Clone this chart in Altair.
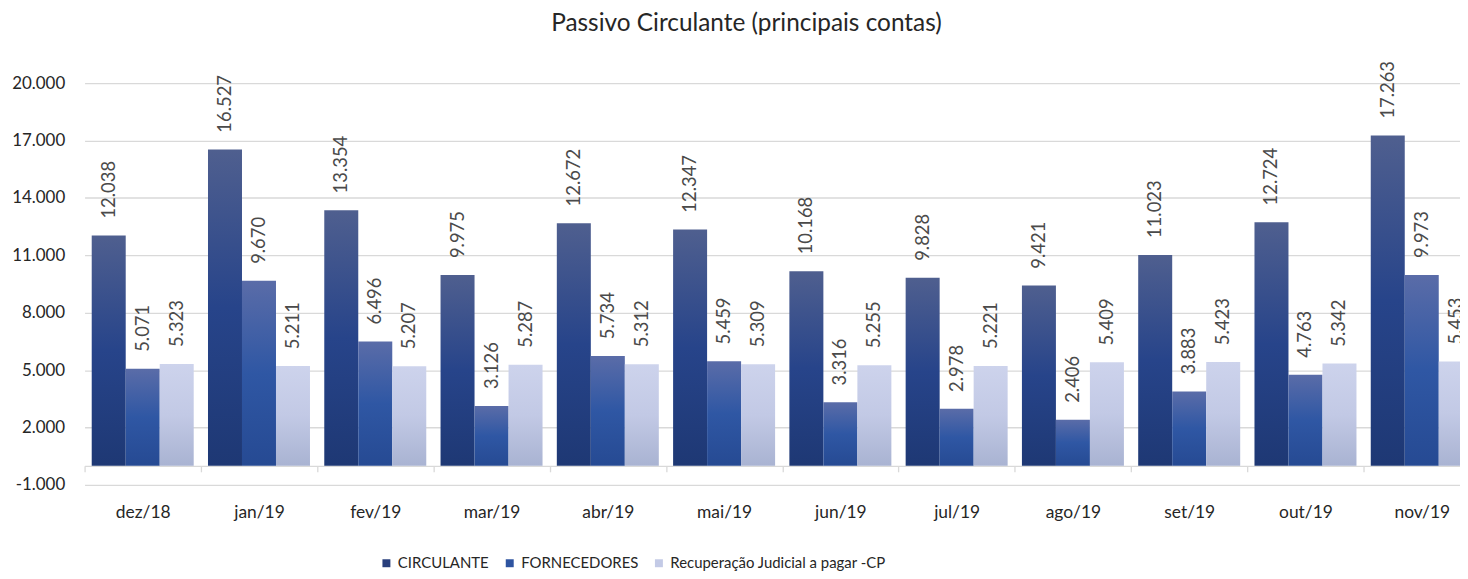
import altair as alt
import pandas as pd

months = ["dez/18", "jan/19", "fev/19", "mar/19", "abr/19", "mai/19",
          "jun/19", "jul/19", "ago/19", "set/19", "out/19", "nov/19"]
series = ["CIRCULANTE", "FORNECEDORES", "Recuperação Judicial a pagar -CP"]
circulante = [12038, 16527, 13354, 9975, 12672, 12347, 10168, 9828, 9421, 11023, 12724, 17263]
fornecedores = [5071, 9670, 6496, 3126, 5734, 5459, 3316, 2978, 2406, 3883, 4763, 9973]
recuperacao = [5323, 5211, 5207, 5287, 5312, 5309, 5255, 5221, 5409, 5423, 5342, 5453]
y_ticks = [-1000, 2000, 5000, 8000, 11000, 14000, 17000, 20000]

legend_colors = ["#283f7c", "#2e54a0", "#c3cae6"]
gradients = [
    ["#4f5f8f", "#27448a", "#1e3874"],
    ["#5a6ca8", "#2f57a4", "#264a93"],
    ["#cdd3ec", "#c2c9e5", "#a9b3d2"],
]

rows = []
for vals, s in zip([circulante, fornecedores, recuperacao], series):
    for m, v in zip(months, vals):
        rows.append({"mes": m, "serie": s, "valor": v,
                     "rotulo": f"{v:,}".replace(",", ".")})
df = pd.DataFrame(rows)

FONT = "Lato"

x_enc = alt.X("mes:N", sort=months, title=None,
              scale=alt.Scale(domain=months, range=[0, 1403], paddingInner=0, paddingOuter=0),
              axis=alt.Axis(offset=-19.2, tickBand="extent", tickSize=6, tickColor="#d9d9d9",
                            tickWidth=1.3, domainColor="#d9d9d9", domainWidth=1.3,
                            labelAngle=0, labelFontSize=17.5, labelFont=FONT, labelColor="#262626",
                            labelPadding=32, grid=False))
xo_enc = alt.XOffset("serie:N", scale=alt.Scale(domain=series, paddingInner=0, paddingOuter=0.21))
y_enc = alt.Y("valor:Q", title=None,
              scale=alt.Scale(domain=[-1000, 20000], nice=False, zero=False),
              axis=alt.Axis(values=y_ticks, domain=False, ticks=False, grid=True,
                            gridColor="#d9d9d9", gridWidth=1.3, labelFontSize=17,
                            labelFont=FONT, labelColor="#262626", labelPadding=20,
                            labelExpr="(datum.value < 0 ? '-' : '') + replace(format(abs(datum.value), ','), ',', '.')"))

layers = []
for s, g in zip(series, gradients):
    grad = alt.LinearGradient(
        gradient="linear", x1=0, x2=0, y1=0, y2=1,
        stops=[alt.GradientStop(color=g[0], offset=0),
               alt.GradientStop(color=g[1], offset=0.5),
               alt.GradientStop(color=g[2], offset=1)])
    layers.append(
        alt.Chart(df).transform_filter(alt.datum.serie == s)
        .mark_bar(fill=grad, clip=True)
        .encode(x=x_enc, xOffset=xo_enc, y=y_enc, y2=alt.datum(0))
    )

labels = alt.Chart(df).mark_text(angle=270, align="left", baseline="middle", dx=17,
                                 fontSize=18.5, font=FONT, color="#4a4a4a", clip=False).encode(
    x=x_enc, xOffset=xo_enc, y=y_enc, text="rotulo:N")

legend_layer = alt.Chart(df).mark_square(size=0, opacity=0).encode(
    color=alt.Color("serie:N", scale=alt.Scale(domain=series, range=legend_colors),
                    legend=alt.Legend(title=None, orient="none", direction="horizontal",
                                      legendX=296, legendY=475, symbolType="square",
                                      symbolSize=64, symbolOpacity=1, symbolStrokeWidth=0,
                                      labelFontSize=15, labelFont=FONT, labelColor="#262626",
                                      labelLimit=0, labelOffset=4, columnPadding=13, padding=0))
)

chart = alt.layer(*layers, labels, legend_layer).properties(
    width=1383, height=404,
    autosize=alt.AutoSizeParams(type="none"),
    padding={"left": 77, "top": 74, "right": 0, "bottom": 85},
    title=alt.Title("Passivo Circulante (principais contas)", fontSize=24.5, font=FONT,
                    fontWeight="normal", color="#262626", anchor="middle", dx=-26, dy=5, offset=30),
).configure_view(stroke=None)

chart.save("out.html", embed_options={"renderer": "svg", "actions": False})
